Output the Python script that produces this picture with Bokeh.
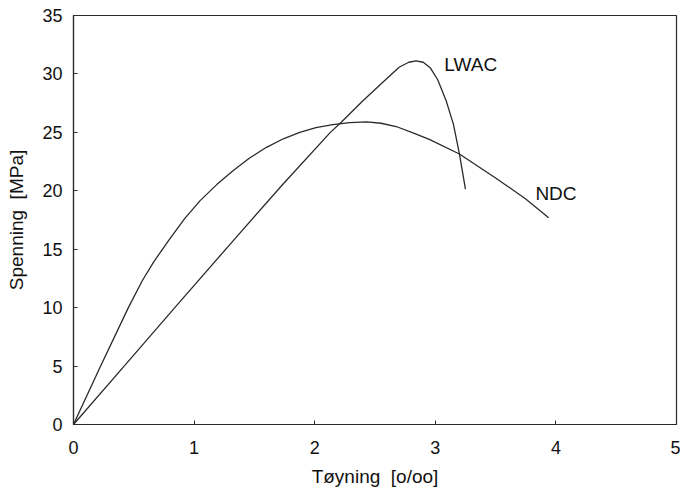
from bokeh.plotting import figure
from bokeh.models import Range1d, FixedTicker
from bokeh.core.properties import value
from bokeh.embed import file_html
from bokeh.resources import INLINE

# NDC curve (strain o/oo, stress MPa)
ndc_x = [0, 0.225, 0.455, 0.57, 0.664, 0.788, 0.92, 1.05, 1.19, 1.325, 1.46, 1.6, 1.74, 1.876, 2.01, 2.15, 2.29, 2.43,
         2.55, 2.675, 2.81, 2.95, 3.2, 3.5, 3.75, 3.94]
ndc_y = [0, 5, 10, 12.3, 13.9, 15.74, 17.6, 19.16, 20.55, 21.73, 22.8, 23.72, 24.45, 25.0, 25.4, 25.66, 25.84, 25.9,
         25.78, 25.5, 24.98, 24.4, 23.15, 21.1, 19.3, 17.7]

# LWAC curve
lwac_x = [0, 0.42, 0.84, 1.325, 1.74, 2.13, 2.22, 2.4, 2.565, 2.70, 2.78, 2.84, 2.90, 2.96, 3.02, 3.09, 3.15,
          3.2, 3.25]
lwac_y = [0, 5, 10, 15.74, 20.6, 25.0, 25.86, 27.7, 29.28, 30.57, 31.0, 31.12, 31.0, 30.5, 29.5, 27.7, 25.7,
          23.15, 20.15]

x_ticks = [0, 1, 2, 3, 4, 5]
y_ticks = [0, 5, 10, 15, 20, 25, 30, 35]

labels = ["LWAC", "NDC"]
label_x = [3.075, 3.83]
label_y = [30.8, 19.8]

FONT = "Liberation Sans"
INK = "#2a2a2a"

p = figure(width=680, height=495, output_backend="svg", toolbar_location=None,
           x_range=Range1d(0, 5), y_range=Range1d(0, 35),
           min_border_left=73, min_border_right=4, min_border_top=15, min_border_bottom=71)

p.line(ndc_x, ndc_y, line_color=INK, line_width=1.3, line_join="round")
p.line(lwac_x, lwac_y, line_color=INK, line_width=1.3, line_join="round")

p.text(x=label_x, y=label_y, text=labels, text_font=value(FONT), text_font_size="19px",
       text_color="#111", text_align="left", text_baseline="alphabetic")

p.xgrid.visible = False
p.ygrid.visible = False
p.outline_line_color = INK
p.outline_line_width = 1.2
p.background_fill_color = "white"
p.border_fill_color = "white"

for ax in (p.xaxis[0], p.yaxis[0]):
    ax.axis_line_color = INK
    ax.axis_line_width = 1.2
    ax.major_tick_in = 4
    ax.major_tick_out = 0
    ax.minor_tick_line_color = None
    ax.major_tick_line_color = INK
    ax.major_label_text_font = FONT
    ax.major_label_text_font_size = "18px"
    ax.major_label_text_color = "#111"
    ax.axis_label_text_font = FONT
    ax.axis_label_text_font_size = "19px"
    ax.axis_label_text_font_style = "normal"
    ax.axis_label_text_color = "#111"

p.xaxis[0].ticker = FixedTicker(ticks=x_ticks)
p.yaxis[0].ticker = FixedTicker(ticks=y_ticks)
p.xaxis[0].axis_label = "Tøyning\u00a0\u00a0[o/oo]"
p.yaxis[0].axis_label = "Spenning\u00a0\u00a0[MPa]"
p.xaxis[0].major_label_standoff = 16
p.yaxis[0].major_label_standoff = 11
p.xaxis[0].axis_label_standoff = 9
p.yaxis[0].axis_label_standoff = 12

open("out.html", "w").write(file_html(p, INLINE))
